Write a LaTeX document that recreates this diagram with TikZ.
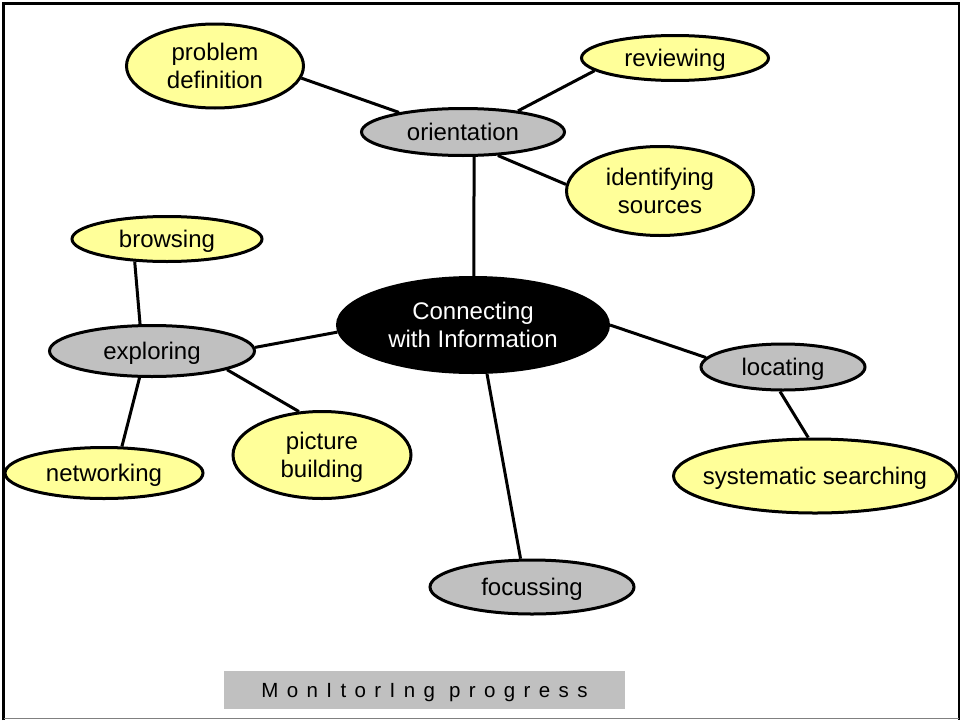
\documentclass[tikz,border=0pt]{standalone}
\usepackage{fontspec}
\setmainfont{Liberation Sans}
\usetikzlibrary{shapes.geometric}
\definecolor{nodeyellow}{HTML}{FFFF99}
\definecolor{nodegray}{HTML}{C0C0C0}
\newcommand\ctext[1]{\makebox[0pt]{\raisebox{-2.5pt}[\height][\depth]{\begin{tabular}{@{}c@{}}#1\end{tabular}}}}
\begin{document}
\begin{tikzpicture}[x=1pt,y=-1pt,
  bubble/.style={ellipse, draw=black, line width=3pt, inner sep=0pt, font=\fontsize{24}{28}\selectfont},
  leaf/.style={bubble, fill=nodeyellow},
  hub/.style={bubble, fill=nodegray},
  core/.style={bubble, fill=black, text=white},
  link/.style={line width=3pt},
  banner/.style={rectangle, fill=nodegray, inner sep=0pt, font=\fontsize{20.5}{24}\selectfont\addfontfeatures{LetterSpace=41}}]
\useasboundingbox (0,0) rectangle (960,720);
% frame
\draw[line width=3pt] (3.7,720) -- (3.7,3.7) -- (960,3.7);
\draw[line width=1.8pt] (959,3) -- (959,720);
\draw[gray, line width=1.5pt] (4,718.5) -- (959,718.5);
% nodes
\node[core, minimum width=271pt, minimum height=95pt] (core) at (473,325) {\ctext{Connecting\\with Information}};
\node[hub, minimum width=203pt, minimum height=47pt] (orient) at (463,132) {\ctext{orientation}};
\node[hub, minimum width=205pt, minimum height=51pt] (explore) at (152,351) {\ctext{exploring}};
\node[hub, minimum width=164pt, minimum height=46pt] (locate) at (783,367) {\ctext{locating}};
\node[hub, minimum width=204pt, minimum height=54pt] (focus) at (532,587) {\ctext{focussing}};
\node[leaf, minimum width=177pt, minimum height=84pt] (prob) at (215,66) {\ctext{problem\\definition}};
\node[leaf, minimum width=187pt, minimum height=45pt] (review) at (675,58) {\ctext{reviewing}};
\node[leaf, minimum width=187pt, minimum height=89pt] (ident) at (660,191) {\ctext{identifying\\sources}};
\node[leaf, minimum width=190pt, minimum height=45pt] (browse) at (167,239) {\ctext{browsing}};
\node[leaf, minimum width=198pt, minimum height=51pt] (network) at (104,473) {\ctext{networking}};
\node[leaf, minimum width=178pt, minimum height=87pt] (picture) at (322,455) {\ctext{picture\\building}};
\node[leaf, minimum width=283pt, minimum height=74pt] (system) at (815,476) {\ctext{systematic searching}};
\node[banner, minimum width=401pt, minimum height=38pt] (monitor) at (424.5,690) {\raisebox{-2.5pt}[\height][\depth]{MonItorIng progress}};
% connectors
\draw[link] (orient.163.6) -- (prob.-8.8);
\draw[link] (orient.21.1) -- (review.189.4);
\draw[link] (orient.-34) -- (ident.176.2);
\draw[link] (orient.-66) -- (core.89);
\draw[link] (core.183.4) -- (explore.2.2);
\draw[link] (explore.114.8) -- (browse.215.2);
\draw[link] (explore.245.2) -- (network.56.8);
\draw[link] (explore.-14) -- (picture.118.1);
\draw[link] (core.-0.9) -- (locate.173.4);
\draw[link] (locate.-97) -- (system.100.2);
\draw[link] (core.-74.5) -- (focus.112.5);
\end{tikzpicture}
\end{document}
